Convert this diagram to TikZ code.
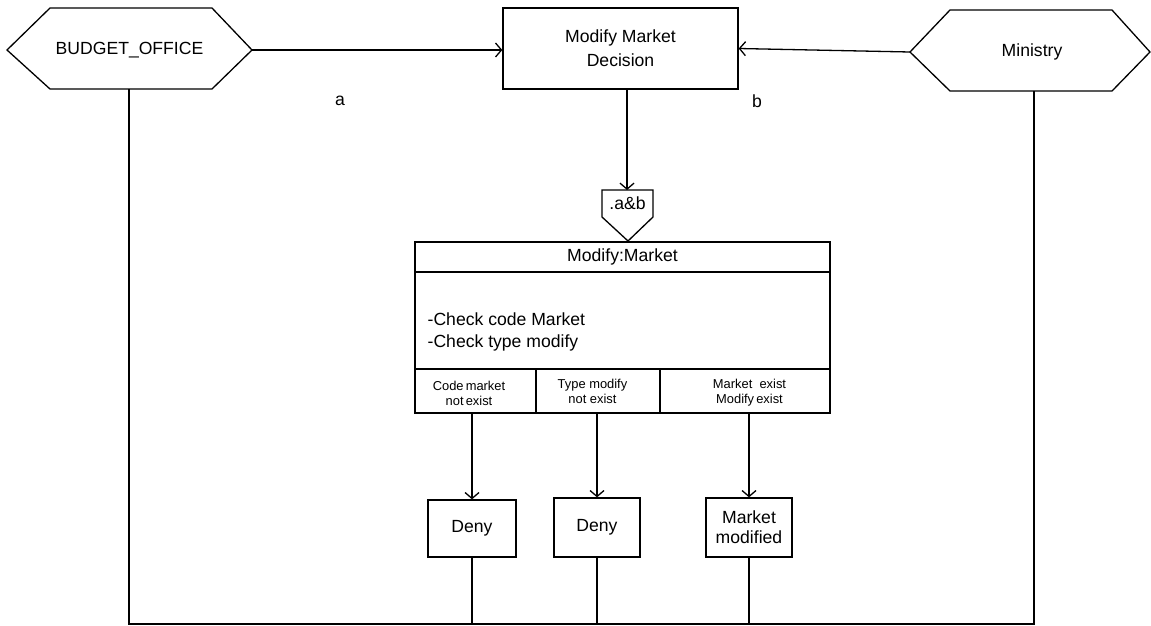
\documentclass[tikz,border=0pt]{standalone}
\usepackage{fontspec}
\setmainfont{Liberation Sans}
\usetikzlibrary{arrows.meta}
\begin{document}
\begin{tikzpicture}[x=1pt,y=-1pt,line width=1.3pt,
  big/.style={font=\fontsize{17.6}{22}\selectfont,inner sep=0pt,align=center},
  small/.style={font=\fontsize{12.9}{15}\selectfont,inner sep=0pt,align=center},
  box/.style={draw,inner sep=0pt,font=\fontsize{17.6}{21}\selectfont,align=center},
  flow/.style={-{Straight Barb[length=6pt,width=14pt,line width=1.3pt]}}]
\useasboundingbox (0,0) rectangle (1151,626);

% actor hexagons
\draw (7,50) -- (50,8) -- (212,8) -- (252,50) -- (212,89) -- (50,89) -- cycle;
\node[big] (budget) at (129.5,50) {BUDGET\_OFFICE};
\coordinate (bo-e) at (252,50);
\coordinate (bo-s) at (129,89);

\draw (910,52) -- (950,10) -- (1112,10) -- (1150,52) -- (1112,91) -- (950,91) -- cycle;
\node[big] (ministry) at (1032,52) {Ministry};
\coordinate (mi-w) at (910,52);
\coordinate (mi-s) at (1034,91);

% decision process
\node[box,minimum width=235pt,minimum height=81pt,font=\fontsize{17.6}{24}\selectfont] (dec) at (620.5,48.5) {Modify Market\\Decision};
\draw[flow] (bo-e) -- (bo-e -| dec.west);
\draw[flow] (mi-w) -- (dec.east);
\node[big] (la) at (340,101) {a};
\node[big] (lb) at (757,101) {b};

% junction a&b
\draw (602,190) -- (653,190) -- (653,217) -- (628,241) -- (602,217) -- cycle;
\node[big] (andb) at (627.5,203) {.a\&b};
\coordinate (andb-n) at (627,190);
\draw[flow] (dec.south -| andb-n) -- (andb-n);

% unit of work
\node[box,minimum width=415pt,minimum height=30pt] (head) at (622.5,257) {Modify:Market};
\node[box,minimum width=415pt,minimum height=97pt] (body) at (622.5,320.5) {};
\node[big,anchor=west,align=left] (checks) at (427,331.5) {-Check code Market\\-Check type modify};
\node[box,minimum width=121pt,minimum height=44pt] (c1) at (475.5,391) {};
\node[box,minimum width=124pt,minimum height=44pt] (c2) at (598,391) {};
\node[box,minimum width=170pt,minimum height=44pt] (c3) at (745,391) {};
\node[small] (t1) at (469,393) {Code\,market\\not\,exist};
\node[small] (t2) at (592.5,391) {Type modify\\not exist};
\node[small] (t3) at (749.5,393) {Market\ \ exist\\Modify\,exist};

% outcomes
\node[box,minimum width=88pt,minimum height=57pt] (d1) at (472,528.5) {Deny};
\node[box,minimum width=86pt,minimum height=59pt] (d2) at (597,527.5) {\raisebox{2pt}{Deny}};
\node[box,minimum width=86pt,minimum height=59pt,font=\fontsize{17.6}{20}\selectfont] (d3) at (749,527.5) {Market\\modified};
\draw[flow] (c1.south -| d1) -- (d1.north);
\draw[flow] (c2.south -| d2) -- (d2.north);
\draw[flow] (c3.south -| d3) -- (d3.north);

% return lines
\coordinate (bl) at (129,624);
\coordinate (br) at (1034,624);
\draw (bo-s) -- (bl) -- (br) -- (mi-s);
\draw (d1.south) -- (d1.south |- bl);
\draw (d2.south) -- (d2.south |- bl);
\draw (d3.south) -- (d3.south |- bl);
\end{tikzpicture}
\end{document}
